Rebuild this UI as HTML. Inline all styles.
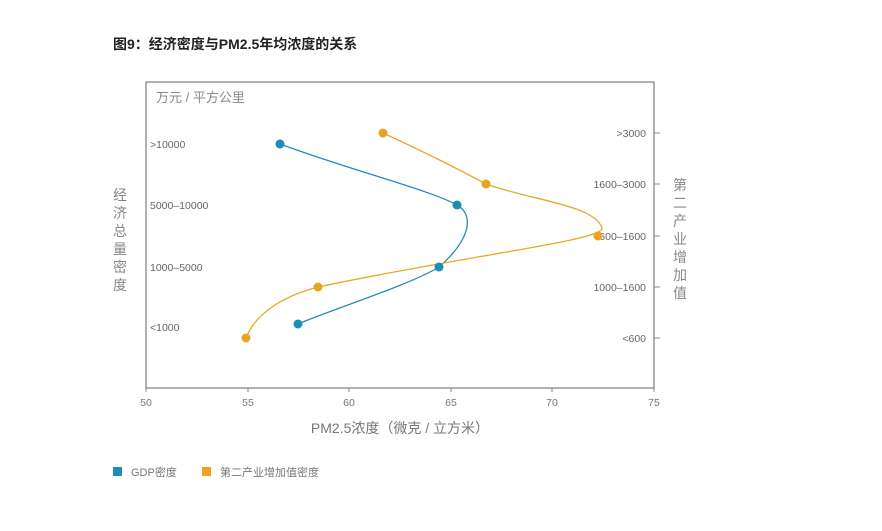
<!DOCTYPE html>
<html><head><meta charset="utf-8"><style>
body{margin:0;background:#fff;width:882px;height:526px;overflow:hidden}
text{font-family:"Liberation Sans","Noto Sans CJK SC",sans-serif}
</style></head><body>
<svg width="882" height="526" viewBox="0 0 882 526">
<text x="113" y="49" font-size="14" font-weight="bold" fill="#222">图9：经济密度与PM2.5年均浓度的关系</text>
<rect x="146" y="82" width="508" height="306" fill="none" stroke="#888" stroke-width="1.3"/>
<text x="156" y="102" font-size="13" fill="#888">万元 / 平方公里</text>
<g font-size="10.5" fill="#666">
<text x="150" y="148">&gt;10000</text>
<text x="150" y="209">5000–10000</text>
<text x="150" y="271">1000–5000</text>
<text x="150" y="331">&lt;1000</text>
</g>
<g font-size="10.5" fill="#666" text-anchor="end">
<text x="646" y="137">&gt;3000</text>
<text x="646" y="188">1600–3000</text>
<text x="646" y="240">600–1600</text>
<text x="646" y="291">1000–1600</text>
<text x="646" y="342">&lt;600</text>
</g>
<g stroke="#888" stroke-width="1">
<line x1="654" y1="133" x2="660" y2="133"/><line x1="654" y1="184" x2="660" y2="184"/><line x1="654" y1="236" x2="660" y2="236"/><line x1="654" y1="287" x2="660" y2="287"/><line x1="654" y1="338" x2="660" y2="338"/>
<line x1="146" y1="388" x2="146" y2="392"/><line x1="248" y1="388" x2="248" y2="392"/><line x1="349" y1="388" x2="349" y2="392"/><line x1="451" y1="388" x2="451" y2="392"/><line x1="552" y1="388" x2="552" y2="392"/><line x1="654" y1="388" x2="654" y2="392"/>
</g>
<g font-size="10.5" fill="#777" text-anchor="middle">
<text x="146" y="406">50</text><text x="248" y="406">55</text><text x="349" y="406">60</text><text x="451" y="406">65</text><text x="552" y="406">70</text><text x="654" y="406">75</text>
</g>
<text x="400" y="433" font-size="14" fill="#777" text-anchor="middle">PM2.5浓度（微克 / 立方米）</text>
<g font-size="14" fill="#888" text-anchor="middle">
<text x="120" y="200">经</text><text x="120" y="218">济</text><text x="120" y="236">总</text><text x="120" y="254">量</text><text x="120" y="272">密</text><text x="120" y="290">度</text>
<text x="680" y="190">第</text><text x="680" y="208">二</text><text x="680" y="226">产</text><text x="680" y="244">业</text><text x="680" y="262">增</text><text x="680" y="280">加</text><text x="680" y="298">值</text>
</g>
<path d="M280,144 C350,170 430,190 457,205 C475,215 470,240 439,267 C410,285 330,310 298,324" fill="none" stroke="#2a8bb0" stroke-width="1.3"/>
<path d="M383,133 C420,150 460,170 486,184 C530,200 595,205 602,228 C605,240 470,255 318,287 C280,297 255,315 246,338" fill="none" stroke="#e8a825" stroke-width="1.3"/>
<g fill="#1a8fb5"><circle cx="280" cy="144" r="4.5"/><circle cx="457" cy="205" r="4.5"/><circle cx="439" cy="267" r="4.5"/><circle cx="298" cy="324" r="4.5"/></g>
<g fill="#e8a420"><circle cx="383" cy="133" r="4.5"/><circle cx="486" cy="184" r="4.5"/><circle cx="598" cy="236" r="4.5"/><circle cx="318" cy="287" r="4.5"/><circle cx="246" cy="338" r="4.5"/></g>
<rect x="113" y="467" width="9" height="9" fill="#1a8fb5"/>
<text x="131" y="476" font-size="11" fill="#777">GDP密度</text>
<rect x="202" y="467" width="9" height="9" fill="#f2a022"/>
<text x="220" y="476" font-size="11" fill="#777">第二产业增加值密度</text>
</svg>
</body></html>
